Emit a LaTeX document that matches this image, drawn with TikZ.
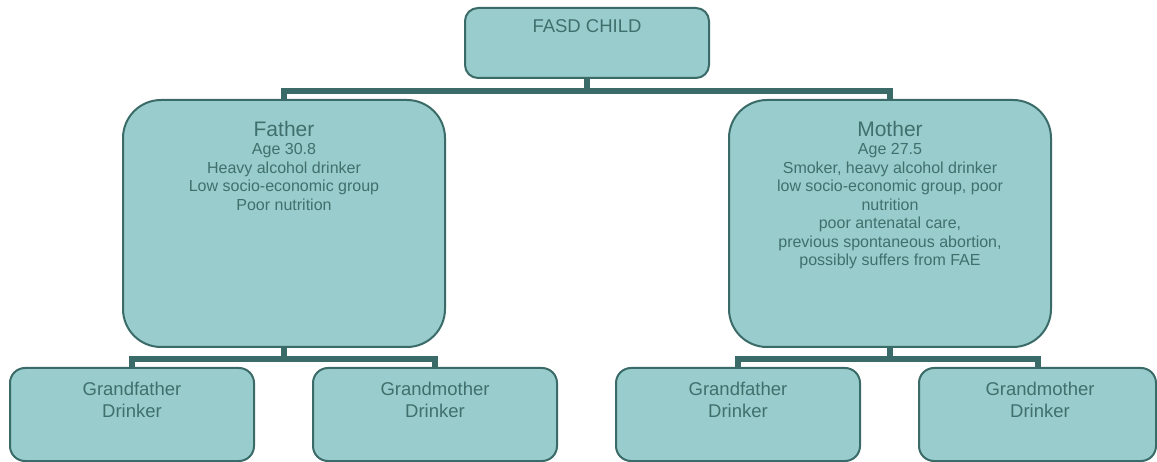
\documentclass[tikz,border=0pt]{standalone}
\usepackage{fontspec}
\setmainfont{Liberation Sans}
\usetikzlibrary{calc}
\definecolor{boxfill}{RGB}{153,204,204}
\definecolor{boxline}{RGB}{58,107,105}
\definecolor{txtcol}{RGB}{64,112,110}
\begin{document}
\begin{tikzpicture}[x=1pt,y=-1pt,
  box/.style={draw=boxline, line width=2pt, fill=boxfill, rectangle, inner sep=0pt},
  conn/.style={draw=boxline, line width=6pt},
  lbl/.style={text=txtcol, align=center, inner sep=0pt, anchor=north},
  bodyfont/.style={font=\fontsize{16}{18.5}\selectfont},
  gpfont/.style={font=\fontsize{18.5}{22}\selectfont}]
\useasboundingbox (0,0) rectangle (1157,462);

% boxes
\node[box, rounded corners=13pt, minimum width=244pt, minimum height=70pt] (child) at (587,43) {};
\node[box, rounded corners=38pt, minimum width=322pt, minimum height=247pt] (father) at (284,223.5) {};
\node[box, rounded corners=38pt, minimum width=322pt, minimum height=247pt] (mother) at (890,223.5) {};
\node[box, rounded corners=15pt, minimum width=244pt, minimum height=93pt] (gfl) at (132,414.5) {};
\node[box, rounded corners=15pt, minimum width=244pt, minimum height=93pt] (gml) at (435,414.5) {};
\node[box, rounded corners=15pt, minimum width=244pt, minimum height=93pt] (gfr) at (738,414.5) {};
\node[box, rounded corners=15pt, minimum width=237pt, minimum height=93pt] (gmr) at (1037.5,414.5) {};

% texts
\node[lbl, font=\fontsize{18.5}{22}\selectfont] (childt) at (587,19.8) {FASD CHILD};
\node[lbl, bodyfont] (fathert) at (284,120.7) {{\fontsize{21}{21}\selectfont Father}\\Age 30.8\\Heavy alcohol drinker\\Low socio-economic group\\Poor nutrition};
\node[lbl, bodyfont] (mothert) at (890,120.7) {{\fontsize{21}{21}\selectfont Mother}\\Age 27.5\\Smoker, heavy alcohol drinker\\low socio-economic group, poor\\nutrition\\poor antenatal care,\\previous spontaneous abortion,\\possibly suffers from FAE};
\node[lbl, gpfont] (gflt) at (132,381.5) {Grandfather\\Drinker};
\node[lbl, gpfont] (gmlt) at (435,381.5) {Grandmother\\Drinker};
\node[lbl, gpfont] (gfrt) at (738,381.5) {Grandfather\\Drinker};
\node[lbl, gpfont] (gmrt) at (1040,381.5) {Grandmother\\Drinker};

% connectors
\draw[conn] (child.south) -- ++(0,12) -| (father.north);
\draw[conn] (child.south) -- ++(0,12) -| (mother.north);
\draw[conn] (father.south) -- ++(0,11) -| (gfl.north);
\draw[conn] (father.south) -- ++(0,11) -| (gml.north);
\draw[conn] (mother.south) -- ++(0,11) -| (gfr.north);
\draw[conn] (mother.south) -- ++(0,11) -| (gmr.north);
\end{tikzpicture}
\end{document}
